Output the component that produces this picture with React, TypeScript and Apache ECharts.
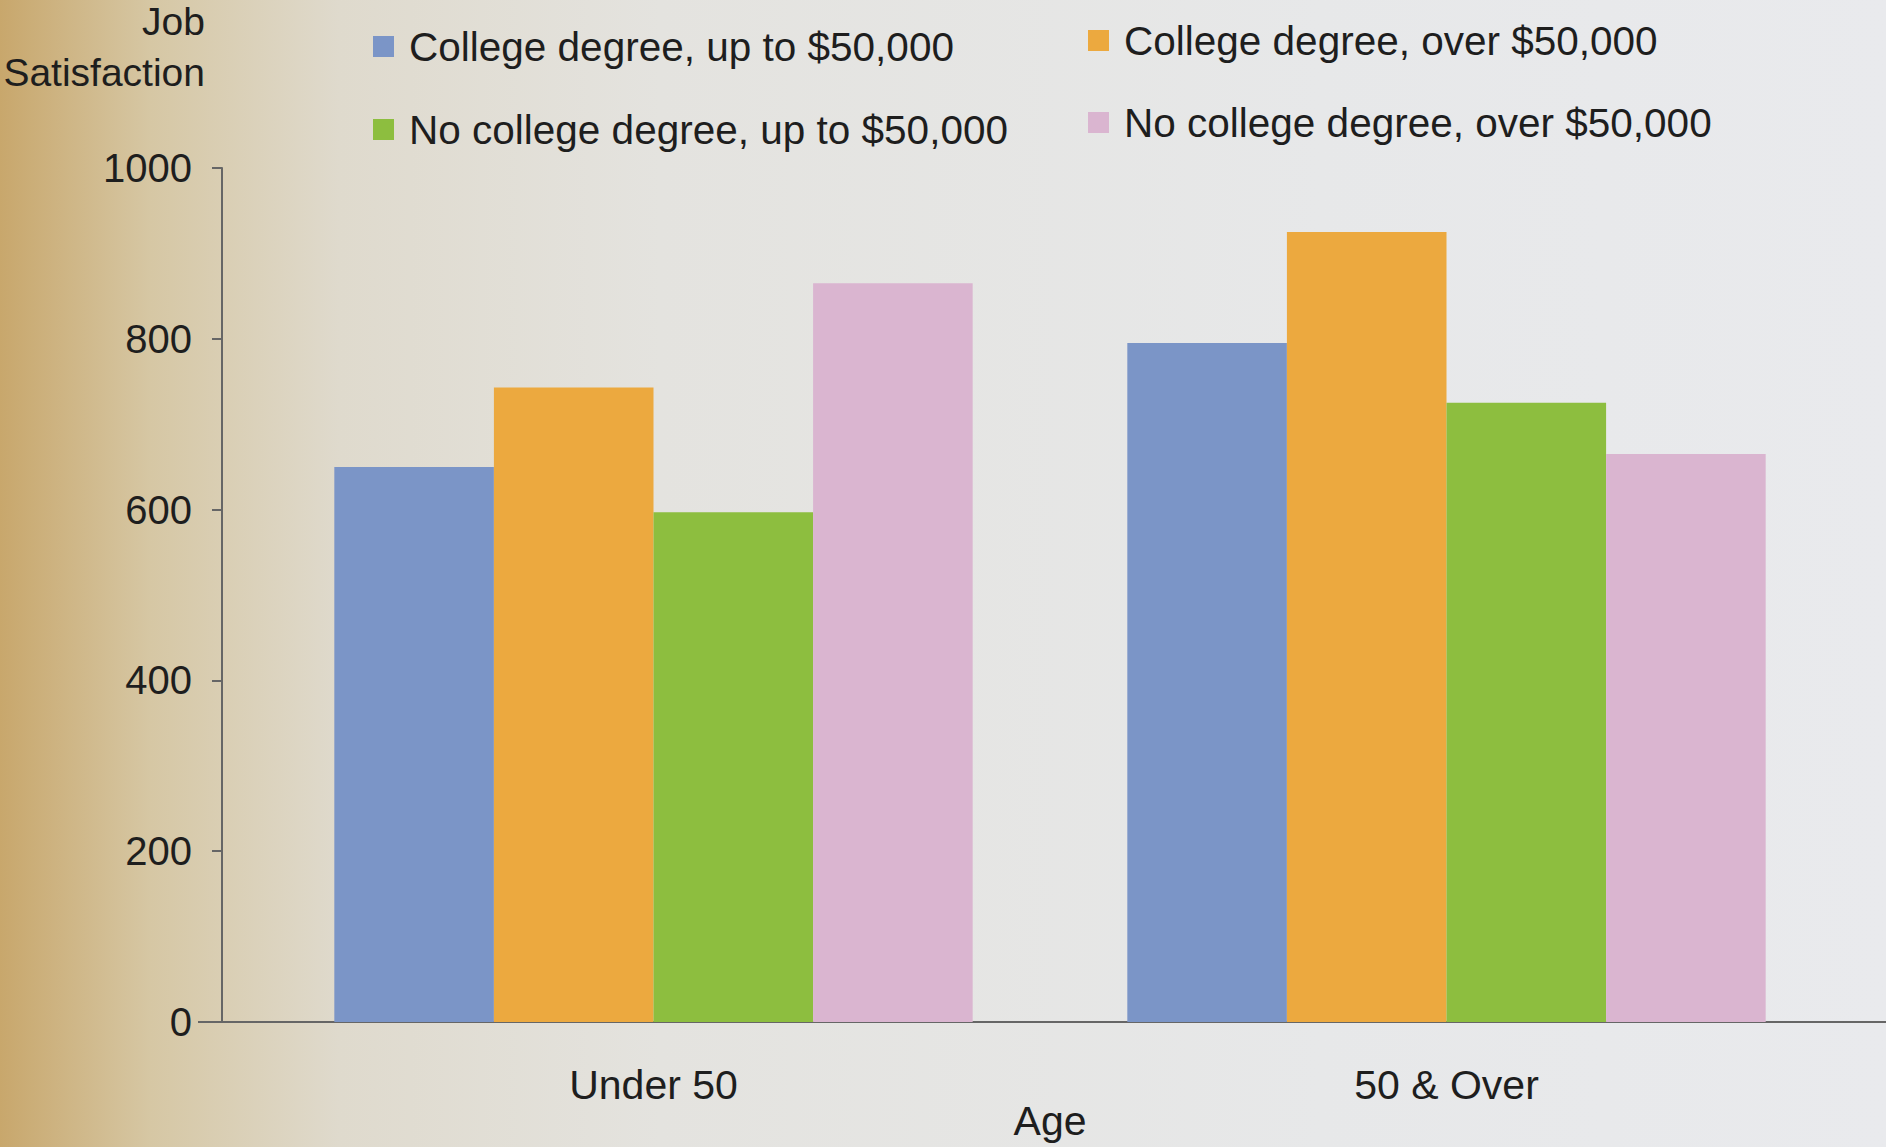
import React, { useEffect, useRef } from "react";
import * as echarts from "echarts";

const categories = ["Under 50", "50 & Over"];
const seriesNames = [
  "College degree, up to $50,000",
  "College degree, over $50,000",
  "No college degree, up to $50,000",
  "No college degree, over $50,000",
];
const collegeUpTo50k = [650, 795];
const collegeOver50k = [743, 925];
const noCollegeUpTo50k = [597, 725];
const noCollegeOver50k = [865, 665];
const yTicks = [0, 200, 400, 600, 800, 1000];

const colors = ["#7b95c7", "#eca93f", "#8dbe3f", "#dab5d0"];
const FONT = "Liberation Sans, Arial, sans-serif";

export default function App() {
  const ref = useRef<HTMLDivElement>(null);
  useEffect(() => {
    if (!ref.current) return;
    const chart = echarts.init(ref.current, undefined, { renderer: "svg" });
    const values = [collegeUpTo50k, collegeOver50k, noCollegeUpTo50k, noCollegeOver50k];
    const legendPos = [
      { left: 373, top: 26 },
      { left: 1088, top: 20 },
      { left: 373, top: 109 },
      { left: 1088, top: 102 },
    ];
    chart.setOption({
      animation: false,
      backgroundColor: "transparent",
      textStyle: { fontFamily: FONT },
      legend: seriesNames.map((n, i) => ({
        data: [n],
        left: legendPos[i].left,
        top: legendPos[i].top,
        padding: 0,
        icon: "rect",
        itemWidth: 21,
        itemHeight: 21,
        itemGap: 0,
        textStyle: { fontSize: 40.5, color: "#1e1e1e", fontFamily: FONT, padding: [0, 0, 0, 10] },
      })),
      grid: { left: 257, right: 43, top: 168, bottom: 125, outerBoundsMode: "none", containLabel: false },
      xAxis: {
        type: "category",
        data: categories,
        axisLine: { show: true, lineStyle: { color: "#666", width: 2 } },
        axisTick: { show: false },
        axisLabel: { fontSize: 41, color: "#1e1e1e", margin: 42, fontFamily: FONT },
        name: "Age",
        nameLocation: "middle",
        nameMoveOverlap: false,
        nameGap: 78,
        nameTextStyle: { fontSize: 41, color: "#1e1e1e", fontFamily: FONT },
      },
      yAxis: {
        type: "value",
        min: 0,
        max: 1000,
        interval: 200,
        offset: 35,
        axisLine: { show: true, lineStyle: { color: "#666", width: 2 } },
        axisTick: { show: true, inside: false, length: 10, lineStyle: { color: "#666", width: 2 } },
        splitLine: { show: false },
        axisLabel: {
          fontSize: 40,
          color: "#1e1e1e",
          margin: 30,
          fontFamily: FONT,
          formatter: (v: number) => (yTicks.includes(v) ? String(v) : ""),
        },
      },
      series: seriesNames.map((n, i) => ({
        name: n,
        type: "bar",
        data: values[i],
        barGap: "0%",
        barCategoryGap: "19.5%",
        itemStyle: { color: colors[i] },
      })),
    });
    const base = chart.convertToPixel({ yAxisIndex: 0 }, 0) as number;
    chart.setOption({
      graphic: [
        {
          type: "text",
          x: 205,
          y: 47,
          style: {
            text: "Job\nSatisfaction",
            font: `39px ${FONT}`,
            fill: "#1e1e1e",
            align: "right",
            verticalAlign: "middle",
            lineHeight: 51,
          },
        },
        {
          type: "line",
          shape: { x1: 198, y1: base, x2: 257, y2: base },
          style: { stroke: "#666", lineWidth: 2 },
        },
        {
          type: "line",
          shape: { x1: 1843, y1: base, x2: 1886, y2: base },
          style: { stroke: "#666", lineWidth: 2 },
        },
      ],
    });
    return () => chart.dispose();
  }, []);
  return (
    <div
      style={{
        position: "fixed",
        left: 0,
        top: 0,
        width: 1886,
        height: 1147,
        overflow: "hidden",
        background:
          "linear-gradient(90deg, #c8a76c 0%, #d6c7a4 8%, #dfdacd 18%, #e4e3df 35%, #e7e8e9 70%, #e9eaed 100%)",
      }}
    >
      <div ref={ref} style={{ width: 1886, height: 1147 }} />
    </div>
  );
}
